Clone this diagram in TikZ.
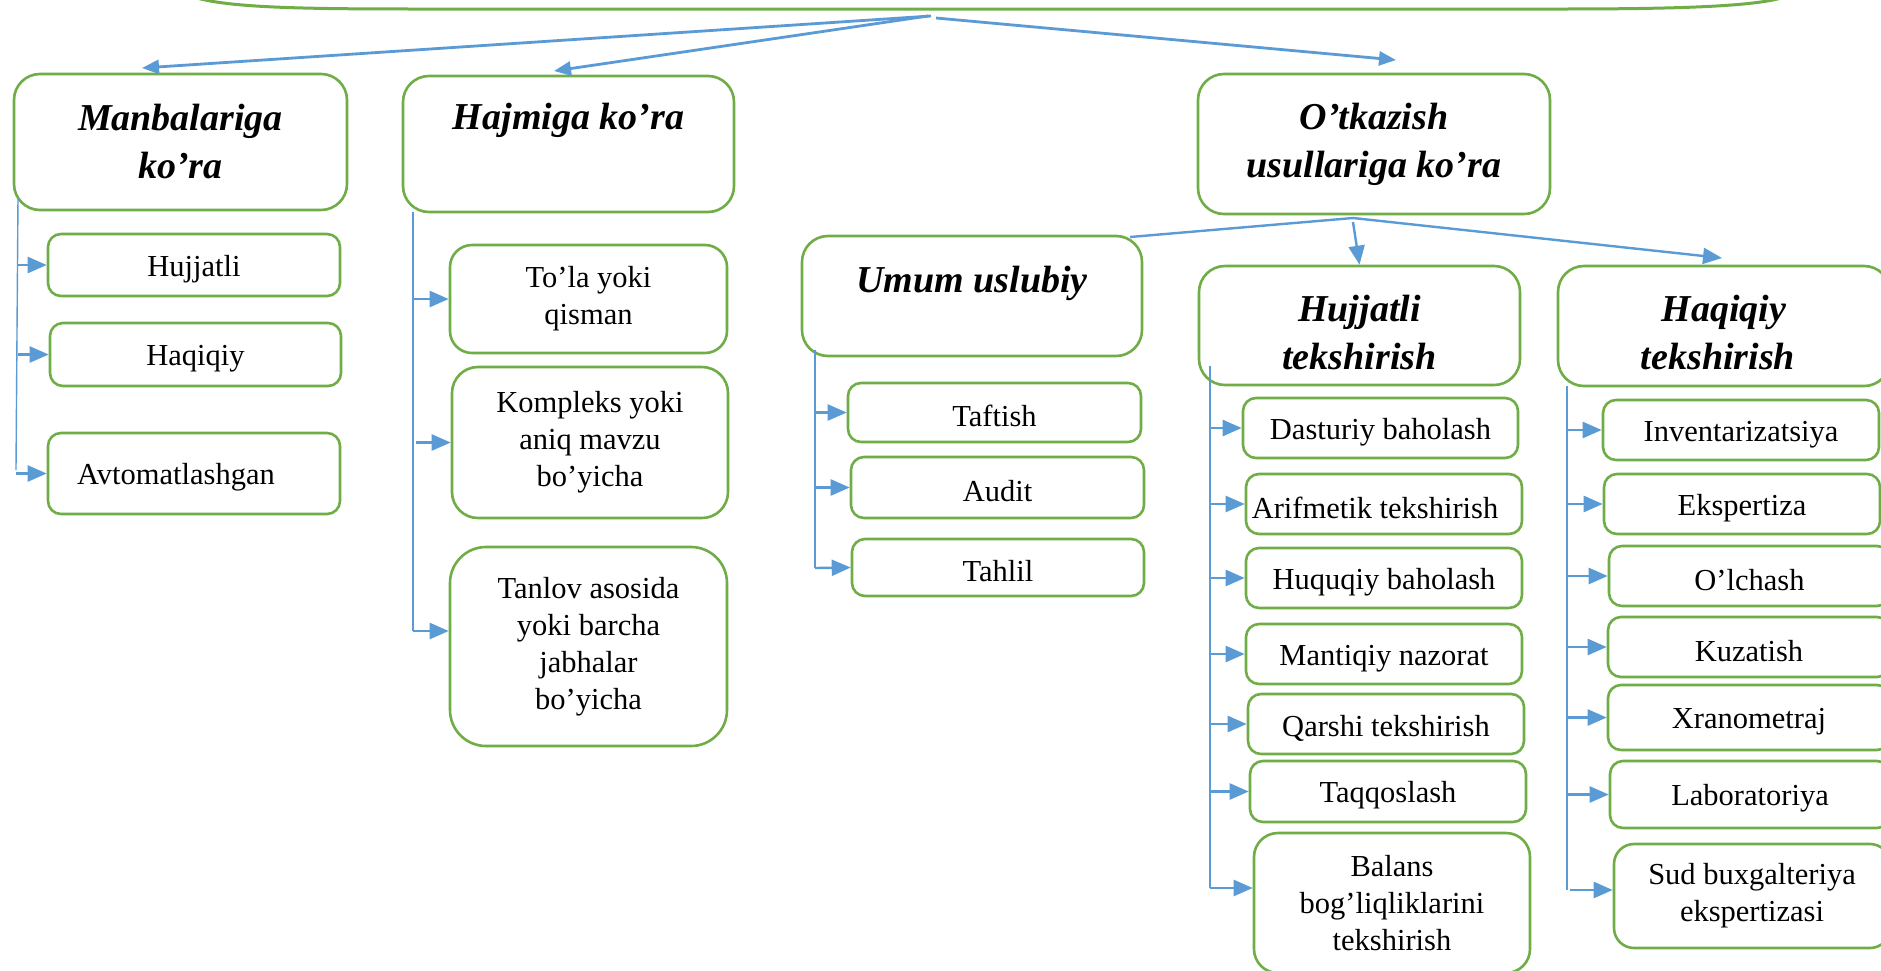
\documentclass[tikz,border=0pt]{standalone}
\usepackage{fontspec}
\setmainfont{Liberation Serif}
\usetikzlibrary{arrows.meta}

\definecolor{boxgreen}{HTML}{70AD47}
\definecolor{linkblue}{HTML}{5B9BD5}

\newcommand{\headstrut}{\rule{0pt}{40pt}}

\tikzset{
  box/.style={draw=boxgreen, line width=2.6pt, rounded corners=13pt, fill=white,
    align=center, inner sep=2pt, font=\fontsize{30.5}{37}\selectfont,
    execute at begin node={\rule{0pt}{29pt}}},
  bigbox/.style={box, rounded corners=26pt},
  head/.style={font=\fontsize{38}{48}\selectfont\bfseries\itshape,
    execute at begin node={}},
  spine/.style={draw=linkblue, line width=1.4pt},
  link/.style={draw=linkblue, line width=2.4pt},
  arr/.style={link, -{Triangle[length=19pt,width=16pt]}},
  toparr/.style={draw=linkblue, line width=2.8pt, -{Triangle[length=17pt,width=14pt]}}
}

\begin{document}
\begin{tikzpicture}[x=1pt,y=-1pt]
\useasboundingbox (0,0) rectangle (1881,970);
\fill[white] (0,0) rectangle (1881,970);

% top frame, only its lower edge is in view
\draw[draw=boxgreen, line width=3pt]
  (186,-6) .. controls (215,8) and (300,9) .. (420,9) -- (1560,9)
  .. controls (1690,9) and (1770,6) .. (1792,-6);
\coordinate (root) at (931,16);

% first level
\node[bigbox, minimum width=333pt, minimum height=136pt, head] (manb) at (180.5,142) {Manbalariga\\ko’ra};
\node[bigbox, minimum width=331pt, minimum height=136pt, head] (hajm) at (568.5,144) {Hajmiga ko’ra\\[8pt]~};
\node[bigbox, minimum width=352pt, minimum height=140pt, head] (otk) at (1374,144) {O’tkazish\\usullariga ko’ra};

\draw[toparr] (root) -- (142,68);
\draw[toparr] ([xshift=-3pt]root) -- (554,71);
\draw[toparr] ([xshift=5pt,yshift=-2pt]root) -- (1396,60);

% by source
\node[box, minimum width=292pt, minimum height=62pt] (m1) at (194,265) {Hujjatli};
\node[box, minimum width=291pt, minimum height=63pt] (m2) at (195.5,354.5) {Haqiqiy};
\node[box, minimum width=292pt, minimum height=81pt] (m3) at (194,473.5) {Avtomatlashgan\hspace*{36pt}};
\coordinate (ms1) at (18,198);
\coordinate (ms2) at (16,470);
\draw[spine] (ms1) -- (ms2);
\draw[arr] (ms1 |- m1.west) -- (m1.west);
\draw[arr] (ms1 |- m2.west) -- (m2.west);
\draw[arr] (ms2 |- m3.west) -- (m3.west);

% by volume
\node[box, rounded corners=22pt, minimum width=277pt, minimum height=108pt] (h1) at (588.5,299) {To’la yoki\\qisman};
\node[box, rounded corners=26pt, minimum width=276pt, minimum height=151pt] (h2) at (590,442.5) {Kompleks yoki\\aniq mavzu\\bo’yicha};
\node[box, rounded corners=36pt, minimum width=277pt, minimum height=199pt] (h3) at (588.5,646.5) {Tanlov asosida\\yoki barcha\\jabhalar\\bo’yicha};
\coordinate (hs1) at (413,212);
\coordinate (hs2) at (413,631);
\draw[spine] (hs1) -- (hs2);
\draw[arr] (hs1 |- h1.west) -- (h1.west);
\draw[arr] ([xshift=3pt]hs1 |- h2.west) -- (h2.west);
\draw[arr] (hs2) -- (h3.west |- hs2);

% by method
\node[bigbox, minimum width=340pt, minimum height=120pt, head] (umum) at (972,296) {\headstrut Umum uslubiy\\~};
\node[bigbox, minimum width=321pt, minimum height=119pt, head] (hujt) at (1359.5,325.5) {\headstrut Hujjatli\\tekshirish};
\node[bigbox, minimum width=332pt, minimum height=120pt, head] (haqt) at (1724,326) {\headstrut Haqiqiy\\tekshirish\hspace*{12pt}};
\coordinate (ob) at (1353,218);
\draw[link] (ob) -- (1130,237);
\draw[arr] ([yshift=-4pt]ob) -- (hujt.north);
\draw[arr] (ob) -- (1722,258);

% general methods
\node[box, minimum width=293pt, minimum height=59pt] (u1) at (994.5,412.5) {Taftish};
\node[box, minimum width=293pt, minimum height=61pt] (u2) at (997.5,487.5) {Audit};
\node[box, minimum width=292pt, minimum height=57pt] (u3) at (998,567.5) {Tahlil};
\coordinate (us1) at (815,350);
\coordinate (us2) at (815,568);
\draw[spine] (us1) -- (us2);
\draw[arr] (us1 |- u1.west) -- (u1.west);
\draw[arr] (us1 |- u2.west) -- (u2.west);
\draw[arr] (us2) -- (u3.west);

% documentary checks
\node[box, minimum width=275pt, minimum height=60pt] (d1) at (1380.5,428) {Dasturiy baholash};
\node[box, minimum width=276pt, minimum height=60pt] (d2) at (1384,504) {Arifmetik tekshirish\hspace*{18pt}};
\node[box, minimum width=276pt, minimum height=60pt] (d3) at (1384,578) {Huquqiy baholash};
\node[box, minimum width=276pt, minimum height=60pt] (d4) at (1384,654) {Mantiqiy nazorat};
\node[box, minimum width=276pt, minimum height=60pt] (d5) at (1386,724) {Qarshi tekshirish};
\node[box, minimum width=276pt, minimum height=61pt] (d6) at (1388,791.5) {Taqqoslash};
\node[box, rounded corners=24pt, minimum width=276pt, minimum height=140pt] (d7) at (1392,903) {Balans\\bog’liqliklarini\\tekshirish};
\coordinate (ds1) at (1210,366);
\coordinate (ds2) at (1210,888);
\draw[spine] (ds1) -- (ds2);
\draw[arr] (ds1 |- d1.west) -- (d1.west);
\draw[arr] (ds1 |- d2.west) -- (d2.west);
\draw[arr] (ds1 |- d3.west) -- (d3.west);
\draw[arr] (ds1 |- d4.west) -- (d4.west);
\draw[arr] (ds1 |- d5.west) -- (d5.west);
\draw[arr] (ds1 |- d6.west) -- (d6.west);
\draw[arr] (ds2) -- (d7.west |- ds2);

% physical checks
\node[box, minimum width=276pt, minimum height=60pt] (f1) at (1741,430) {Inventarizatsiya};
\node[box, minimum width=276pt, minimum height=60pt] (f2) at (1742,504) {Ekspertiza};
\node[box, minimum width=281pt, minimum height=60pt] (f3) at (1749.5,576) {O’lchash};
\node[box, minimum width=282pt, minimum height=60pt] (f4) at (1749,647) {Kuzatish};
\node[box, minimum width=282pt, minimum height=65pt] (f5) at (1749,717.5) {Xranometraj};
\node[box, minimum width=280pt, minimum height=67pt] (f6) at (1750,794.5) {Laboratoriya};
\node[box, rounded corners=20pt, minimum width=276pt, minimum height=104pt] (f7) at (1752,896) {Sud buxgalteriya\\ekspertizasi};
\coordinate (fs1) at (1567,386);
\coordinate (fs2) at (1567,890);
\draw[spine] (fs1) -- (fs2);
\draw[arr] (fs1 |- f1.west) -- (f1.west);
\draw[arr] (fs1 |- f2.west) -- (f2.west);
\draw[arr] (fs1 |- f3.west) -- (f3.west);
\draw[arr] (fs1 |- f4.west) -- (f4.west);
\draw[arr] (fs1 |- f5.west) -- (f5.west);
\draw[arr] (fs1 |- f6.west) -- (f6.west);
\draw[arr] ([xshift=3pt]fs2) -- (f7.west |- fs2);
\end{tikzpicture}
\end{document}
